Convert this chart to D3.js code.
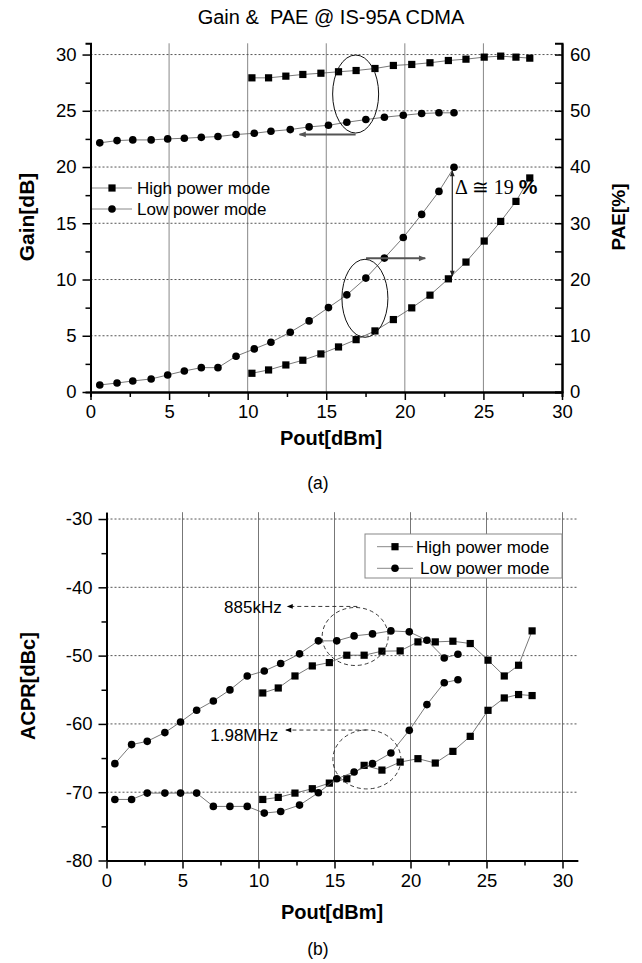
<!DOCTYPE html>
<html><head><meta charset="utf-8">
<script src="https://cdn.jsdelivr.net/npm/d3@7"></script>
<style>body{margin:0;background:#fff}svg{display:block}</style>
</head><body>
<svg id="c" width="642" height="963"></svg>
<script>
// ---------- DATA ----------
const xTicks = [0, 5, 10, 15, 20, 25, 30];
const gainTicks = [0, 5, 10, 15, 20, 25, 30];
const paeTicks = [0, 10, 20, 30, 40, 50, 60];
const acprTicks = [-80, -70, -60, -50, -40, -30];

// (a) High power mode
const hpX = [10.27, 11.33, 12.43, 13.51, 14.66, 15.78, 16.9, 18.1, 19.27, 20.44, 21.6, 22.77, 23.89, 25.05, 26.1, 27.07, 27.95];
const hpGain = [27.93, 27.93, 28.08, 28.23, 28.34, 28.47, 28.58, 28.76, 29.03, 29.12, 29.27, 29.47, 29.59, 29.77, 29.86, 29.77, 29.68];
const hpPAE = [3.33, 3.92, 4.81, 5.65, 6.77, 8.01, 9.31, 10.86, 12.88, 14.96, 17.22, 20.12, 23.1, 26.84, 30.33, 33.89, 38.06];
// (a) Low power mode
const lpX = [0.59, 1.69, 2.69, 3.86, 4.91, 5.97, 7.05, 8.11, 9.26, 10.42, 11.48, 12.71, 13.91, 15.14, 16.31, 17.52, 18.7, 19.9, 21.07, 22.17, 23.13];
const lpGain = [22.15, 22.35, 22.41, 22.41, 22.5, 22.56, 22.64, 22.71, 22.89, 23.0, 23.18, 23.33, 23.57, 23.71, 23.98, 24.22, 24.43, 24.6, 24.76, 24.82, 24.82];
const lpPAE = [1.25, 1.6, 1.96, 2.32, 3.03, 3.74, 4.33, 4.33, 6.36, 7.66, 8.85, 10.63, 12.64, 15.01, 17.27, 20.25, 23.81, 27.48, 31.58, 35.67, 39.95];

// (b) High power mode
const hpX2 = [10.28, 11.3, 12.4, 13.54, 14.66, 15.81, 16.95, 18.12, 19.32, 20.49, 21.63, 22.79, 23.93, 25.1, 26.17, 27.11, 28.0];
const hpACPR885 = [-55.47, -54.74, -52.98, -51.51, -51.02, -49.94, -49.94, -49.35, -49.31, -47.99, -47.99, -47.89, -48.23, -50.67, -52.98, -51.41, -46.38];
const hpACPR198 = [-71.06, -70.76, -70.13, -69.49, -68.67, -68.03, -66.07, -66.76, -65.59, -65.09, -65.73, -64.02, -61.82, -58.01, -56.2, -55.7, -55.85];
// (b) Low power mode
const lpX2 = [0.55, 1.65, 2.68, 3.84, 4.87, 5.93, 7.03, 8.12, 9.26, 10.38, 11.46, 12.7, 13.94, 15.15, 16.29, 17.5, 18.71, 19.92, 21.08, 22.22, 23.12];
const lpACPR885 = [-65.82, -63.03, -62.55, -61.27, -59.72, -58.0, -56.64, -55.02, -52.98, -52.25, -51.16, -49.74, -47.84, -47.84, -47.11, -46.82, -46.38, -46.52, -47.74, -50.34, -49.8];
const lpACPR198 = [-71.06, -71.06, -70.13, -70.13, -70.13, -70.13, -72.08, -72.08, -72.08, -73.06, -72.82, -71.89, -70.07, -68.03, -67.05, -65.82, -64.27, -60.94, -57.17, -53.97, -53.53];

const seriesNames = ["High power mode", "Low power mode"];

// ---------- DRAW ----------
const svg = d3.select("#c");
const FONT = "Liberation Sans, Arial, sans-serif";
const defs = svg.append("defs");
function mk(id, color, w, h) {
  defs.append("marker").attr("id", id).attr("viewBox", "0 0 10 10").attr("refX", 9).attr("refY", 5)
    .attr("markerWidth", w).attr("markerHeight", h).attr("orient", "auto-start-reverse")
    .attr("markerUnits", "userSpaceOnUse")
    .append("path").attr("d", "M0,1 L10,5 L0,9 Z").attr("fill", color);
}
mk("agray", "#555", 10, 7);
mk("ablk", "#000", 8, 6);
mk("ablk2", "#222", 9, 6);

function drawSeries(g, xs, ys, xS, yS, shape) {
  const pts = xs.map((x, i) => [xS(x), yS(ys[i])]);
  g.append("path").attr("d", d3.line()(pts)).attr("fill", "none").attr("stroke", "#555").attr("stroke-width", 0.8);
  if (shape === "sq") {
    g.selectAll(null).data(pts).enter().append("rect")
      .attr("x", d => d[0] - 3.6).attr("y", d => d[1] - 3.6).attr("width", 7.2).attr("height", 7.2).attr("fill", "#000");
  } else {
    g.selectAll(null).data(pts).enter().append("circle")
      .attr("cx", d => d[0]).attr("cy", d => d[1]).attr("r", 3.8).attr("fill", "#000");
  }
}
function styleAxis(g) {
  g.select(".domain").attr("stroke", "#000").attr("stroke-width", 2);
  g.selectAll(".tick line").attr("stroke", "#000").attr("stroke-width", 1.5);
  g.selectAll(".tick text").attr("font-family", FONT).attr("font-size", 18.5).attr("fill", "#000");
}
function minorVals(a, b, step) { const r = []; for (let v = a; v <= b + 1e-9; v += step) r.push(v); return r; }

// ===== Chart (a) =====
{
  const x = d3.scaleLinear().domain([0, 30]).range([90.5, 562]);
  const yG = d3.scaleLinear().domain([0, 31]).range([392, 43.3]);
  const yP = d3.scaleLinear().domain([0, 62]).range([392, 43.3]);
  const g = svg.append("g");

  // grid
  g.selectAll(null).data([5, 10, 15, 20, 25]).enter().append("line")
    .attr("x1", d => x(d)).attr("x2", d => x(d)).attr("y1", yG(31)).attr("y2", yG(0))
    .attr("stroke", "#888").attr("stroke-width", 1);
  g.selectAll(null).data([5, 10, 15, 20, 25, 30]).enter().append("line")
    .attr("x1", x(0)).attr("x2", x(30)).attr("y1", d => yG(d)).attr("y2", d => yG(d))
    .attr("stroke", "#555").attr("stroke-width", 1).attr("stroke-dasharray", "2,2");

  // title
  svg.append("text").attr("x", 331).attr("y", 24).attr("text-anchor", "middle")
    .attr("font-family", FONT).attr("font-size", 20).style("white-space", "pre").text("Gain &  PAE @ IS-95A CDMA");

  // axes
  const minorX = minorVals(2.5, 27.5, 5);
  g.append("g").attr("transform", `translate(0,${yG(0)})`).call(d3.axisBottom(x).tickValues(minorX).tickSize(5).tickFormat("")).call(styleAxis);
  g.append("g").attr("transform", `translate(0,${yG(0)})`).call(d3.axisBottom(x).tickValues(xTicks).tickSize(8).tickSizeOuter(0).tickPadding(5).tickFormat(d => String(d))).call(styleAxis);
  g.append("g").attr("transform", `translate(${x(0)},0)`).call(d3.axisLeft(yG).tickValues(minorVals(2.5, 27.5, 5)).tickSize(5).tickFormat("")).call(styleAxis);
  g.append("g").attr("transform", `translate(${x(0)},0)`).call(d3.axisLeft(yG).tickValues(gainTicks).tickSize(8).tickSizeOuter(0).tickPadding(6).tickFormat(d => String(d))).call(styleAxis);
  g.append("g").attr("transform", `translate(${x(30)},0)`).call(d3.axisRight(yP).tickValues(minorVals(5, 55, 10)).tickSize(-7).tickFormat("")).call(styleAxis);
  g.append("g").attr("transform", `translate(${x(30)},0)`).call(d3.axisRight(yP).tickValues(paeTicks).tickSizeInner(-7).tickSizeOuter(0).tickPadding(8).tickFormat(d => String(d))).call(styleAxis);

  // labels
  svg.append("text").attr("transform", "translate(34,217) rotate(-90)").attr("text-anchor", "middle")
    .attr("font-family", FONT).attr("font-size", 21).attr("font-weight", "bold").text("Gain[dB]");
  svg.append("text").attr("transform", "translate(625,217) rotate(-90)").attr("text-anchor", "middle")
    .attr("font-family", FONT).attr("font-size", 19).attr("font-weight", "bold").text("PAE[%]");
  svg.append("text").attr("x", 331).attr("y", 445).attr("text-anchor", "middle")
    .attr("font-family", FONT).attr("font-size", 20).attr("font-weight", "bold").text("Pout[dBm]");
  svg.append("text").attr("x", 318).attr("y", 489).attr("text-anchor", "middle")
    .attr("font-family", FONT).attr("font-size", 17.5).text("(a)");

  // series
  drawSeries(g, hpX, hpGain, x, yG, "sq");
  drawSeries(g, lpX, lpGain, x, yG, "ci");
  drawSeries(g, hpX, hpPAE, x, yP, "sq");
  drawSeries(g, lpX, lpPAE, x, yP, "ci");

  // annotations
  g.append("ellipse").attr("cx", x(16.87)).attr("cy", yG(26.49)).attr("rx", 23).attr("ry", 39)
    .attr("fill", "none").attr("stroke", "#111").attr("stroke-width", 1);
  g.append("line").attr("x1", x(16.87)).attr("y1", yG(22.9)).attr("x2", x(13.3)).attr("y2", yG(22.9))
    .attr("stroke", "#555").attr("stroke-width", 2).attr("marker-end", "url(#agray)");
  g.append("ellipse").attr("cx", x(17.46)).attr("cy", yP(16.66)).attr("rx", 23).attr("ry", 39)
    .attr("fill", "none").attr("stroke", "#111").attr("stroke-width", 1);
  g.append("line").attr("x1", x(17.53)).attr("y1", yP(23.76)).attr("x2", x(21.3)).attr("y2", yP(23.76))
    .attr("stroke", "#555").attr("stroke-width", 2).attr("marker-end", "url(#agray)");
  g.append("line").attr("x1", x(23.02)).attr("y1", yP(39.3)).attr("x2", x(23.02)).attr("y2", yP(20.6))
    .attr("stroke", "#222").attr("stroke-width", 1.2).attr("marker-start", "url(#ablk2)").attr("marker-end", "url(#ablk2)");
  const t = g.append("text").attr("x", 455).attr("y", 194).attr("font-family", "Liberation Serif, Times New Roman, serif").attr("font-size", 20);
  t.append("tspan").text("Δ ≅ 19 ");
  t.append("tspan").attr("font-family", FONT).attr("font-weight", "bold").attr("font-size", 21).text("%");

  // legend
  const lg = [[188, "sq"], [209, "ci"]];
  lg.forEach(([ly, s], i) => {
    g.append("line").attr("x1", 92).attr("x2", 132).attr("y1", ly).attr("y2", ly).attr("stroke", "#888").attr("stroke-width", 1);
    if (s === "sq") g.append("rect").attr("x", 112 - 3.6).attr("y", ly - 3.6).attr("width", 7.2).attr("height", 7.2);
    else g.append("circle").attr("cx", 112).attr("cy", ly).attr("r", 3.8);
    g.append("text").attr("x", 137).attr("y", ly + 6).attr("font-family", FONT).attr("font-size", 17).text(seriesNames[i]);
  });
}

// ===== Chart (b) =====
{
  const x = d3.scaleLinear().domain([0, 31]).range([106.5, 577.7]);
  const y = d3.scaleLinear().domain([-80, -29]).range([860.5, 512.2]);
  const g = svg.append("g");

  g.selectAll(null).data([5, 10, 15, 20, 25, 30]).enter().append("line")
    .attr("x1", d => x(d)).attr("x2", d => x(d)).attr("y1", y(-29)).attr("y2", y(-80))
    .attr("stroke", "#777").attr("stroke-width", 1);
  g.selectAll(null).data([-70, -60, -50, -40, -30]).enter().append("line")
    .attr("x1", x(0)).attr("x2", x(31)).attr("y1", d => y(d)).attr("y2", d => y(d))
    .attr("stroke", "#555").attr("stroke-width", 1).attr("stroke-dasharray", "2,2");

  g.append("g").attr("transform", `translate(0,${y(-80)})`).call(d3.axisBottom(x).tickValues(minorVals(2.5, 27.5, 5)).tickSize(5).tickSizeOuter(0).tickFormat("")).call(styleAxis);
  g.append("g").attr("transform", `translate(0,${y(-80)})`).call(d3.axisBottom(x).tickValues(xTicks).tickSize(8).tickSizeOuter(0).tickPadding(5).tickFormat(d => String(d))).call(styleAxis);
  g.append("g").attr("transform", `translate(${x(0)},0)`).call(d3.axisLeft(y).tickValues([-75, -65, -55, -45, -35]).tickSize(5).tickSizeOuter(0).tickFormat("")).call(styleAxis);
  g.append("g").attr("transform", `translate(${x(0)},0)`).call(d3.axisLeft(y).tickValues(acprTicks).tickSize(8).tickSizeOuter(0).tickPadding(6).tickFormat(d => String(d))).call(styleAxis);

  svg.append("text").attr("transform", "translate(35,686) rotate(-90)").attr("text-anchor", "middle")
    .attr("font-family", FONT).attr("font-size", 20).attr("font-weight", "bold").text("ACPR[dBc]");
  svg.append("text").attr("x", 332).attr("y", 919).attr("text-anchor", "middle")
    .attr("font-family", FONT).attr("font-size", 20).attr("font-weight", "bold").text("Pout[dBm]");
  svg.append("text").attr("x", 318).attr("y", 955).attr("text-anchor", "middle")
    .attr("font-family", FONT).attr("font-size", 17.5).text("(b)");

  drawSeries(g, hpX2, hpACPR885, x, y, "sq");
  drawSeries(g, lpX2, lpACPR885, x, y, "ci");
  drawSeries(g, hpX2, hpACPR198, x, y, "sq");
  drawSeries(g, lpX2, lpACPR198, x, y, "ci");

  // annotations
  g.append("ellipse").attr("cx", x(16.36)).attr("cy", y(-47.2)).attr("rx", 33).attr("ry", 29)
    .attr("fill", "none").attr("stroke", "#222").attr("stroke-width", 0.9).attr("stroke-dasharray", "4,3");
  g.append("line").attr("x1", x(16.5)).attr("y1", y(-42.8)).attr("x2", x(11.9)).attr("y2", y(-42.8))
    .attr("stroke", "#222").attr("stroke-width", 0.9).attr("stroke-dasharray", "4,3").attr("marker-end", "url(#ablk)");
  g.append("text").attr("x", 281.7).attr("y", 613).attr("text-anchor", "end").attr("font-family", FONT).attr("font-size", 17).text("885kHz");
  g.append("ellipse").attr("cx", x(17.13)).attr("cy", y(-65.2)).attr("rx", 34).attr("ry", 29.5)
    .attr("fill", "none").attr("stroke", "#222").attr("stroke-width", 0.9).attr("stroke-dasharray", "4,3");
  g.append("line").attr("x1", x(17.1)).attr("y1", y(-60.9)).attr("x2", x(11.8)).attr("y2", y(-60.9))
    .attr("stroke", "#222").attr("stroke-width", 0.9).attr("stroke-dasharray", "4,3").attr("marker-end", "url(#ablk)");
  g.append("text").attr("x", 278.3).attr("y", 741).attr("text-anchor", "end").attr("font-family", FONT).attr("font-size", 17).text("1.98MHz");

  // legend box
  g.append("rect").attr("x", 365).attr("y", 534).attr("width", 197).attr("height", 44)
    .attr("fill", "#fff").attr("stroke", "#888").attr("stroke-width", 1);
  const lg = [[546.7, "sq", 416], [568.3, "ci", 420]];
  lg.forEach(([ly, s, tx], i) => {
    g.append("line").attr("x1", 377).attr("x2", 413).attr("y1", ly).attr("y2", ly).attr("stroke", "#888").attr("stroke-width", 1);
    if (s === "sq") g.append("rect").attr("x", 395 - 3.6).attr("y", ly - 3.6).attr("width", 7.2).attr("height", 7.2);
    else g.append("circle").attr("cx", 395).attr("cy", ly).attr("r", 3.8);
    g.append("text").attr("x", tx).attr("y", ly + 6).attr("font-family", FONT).attr("font-size", 17).text(seriesNames[i]);
  });
}
</script>
</body></html>
